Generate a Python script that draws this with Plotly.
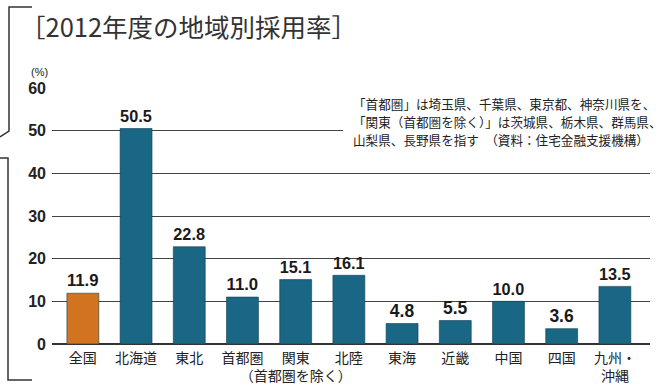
import plotly.graph_objects as go

regions = ["全国", "北海道", "東北", "首都圏", "関東<br>（首都圏を除く）", "北陸", "東海", "近畿", "中国", "四国", "九州・<br>沖縄"]
rates = [11.9, 50.5, 22.8, 11.0, 15.1, 16.1, 4.8, 5.5, 10.0, 3.6, 13.5]
y_ticks = [0, 10, 20, 30, 40, 50, 60]
note_lines = [
    "「首都圏」は埼玉県、千葉県、東京都、神奈川県を、",
    "「関東（首都圏を除く）」は茨城県、栃木県、群馬県、",
    "山梨県、長野県を指す　（資料：住宅金融支援機構）",
]
title_text = "［2012年度の地域別採用率］"

BLUE = "#1a6785"
ORANGE = "#d2731f"
colors = [ORANGE] + [BLUE] * (len(rates) - 1)

W, H = 670, 391
L, R, T, B = 52, 20, 88, 47
PW, PH = W - L - R, H - T - B


def px(x):
    return (x - L) / PW


def py(y):
    return (H - B - y) / PH


CJK = "Noto Sans CJK JP"
NUM = "Liberation Sans"

fig = go.Figure()
fig.add_trace(go.Bar(
    x=list(range(len(regions))),
    y=rates,
    width=0.6,
    marker=dict(color=colors, line=dict(color="#0f3f50", width=0.6)),
    text=[f"<b>{v:.1f}</b>" for v in rates],
    textposition="outside",
    textfont=dict(family=NUM, size=17.5, color="#1a1a1a"),
    cliponaxis=False,
    hoverinfo="skip",
))

fig.update_layout(
    width=W, height=H,
    margin=dict(l=L, r=R, t=T, b=B),
    paper_bgcolor="white", plot_bgcolor="white",
    showlegend=False,
    bargap=0.4,
    xaxis=dict(
        range=[-0.58, len(regions) - 1 + 0.66],
        tickmode="array",
        tickvals=list(range(len(regions))),
        ticktext=regions,
        tickangle=0,
        automargin=False,
        tickfont=dict(family=CJK, size=14, color="#222"),
        ticks="", showgrid=False, zeroline=False,
        showline=False, ticklabelstandoff=4,
    ),
    yaxis=dict(
        range=[0, 60],
        tickvals=y_ticks,
        automargin=False,
        tickfont=dict(family=NUM, size=16, color="#222"),
        ticktext=[f"<b>{v}</b>" for v in y_ticks],
        ticks="", showgrid=True, gridcolor="#444", gridwidth=1,
        zeroline=True, zerolinecolor="#333", zerolinewidth=1.5,
        showline=False, ticklabelstandoff=5,
    ),
)

# white block behind the note (hides the grid line, as in the source)
fig.add_shape(type="rect", xref="paper", yref="paper",
              x0=px(343), x1=px(658), y0=py(148), y1=py(95),
              fillcolor="white", line=dict(width=0), layer="above")

for i, line in enumerate(note_lines):
    fig.add_annotation(xref="paper", yref="paper", x=px(351), y=py(103 + 18 * i),
                       text=line, showarrow=False, xanchor="left", yanchor="middle",
                       font=dict(family=CJK, size=12.6, color="#222"))

fig.add_annotation(xref="paper", yref="paper", x=px(18), y=py(25),
                   text=title_text, showarrow=False, xanchor="left", yanchor="middle",
                   font=dict(family=CJK, size=25.5, color="#333"))

fig.add_annotation(xref="paper", yref="paper", x=px(39), y=py(72),
                   text="(%)", showarrow=False, xanchor="center", yanchor="middle",
                   font=dict(family=NUM, size=11, color="#222"))

# page bracket decoration
for path in [
    [(32, 7), (9, 7), (9, 131), (0, 137)],
    [(0, 158), (8, 158), (8, 380), (32, 380)],
]:
    d = "M " + " L ".join(f"{px(x)},{py(y)}" for x, y in path)
    fig.add_shape(type="path", xref="paper", yref="paper", path=d,
                  line=dict(color="#333", width=1.5))

fig.write_html("out.html", config={"displayModeBar": False},
               post_script="document.body.style.margin='0px';document.body.style.overflow='hidden';")
